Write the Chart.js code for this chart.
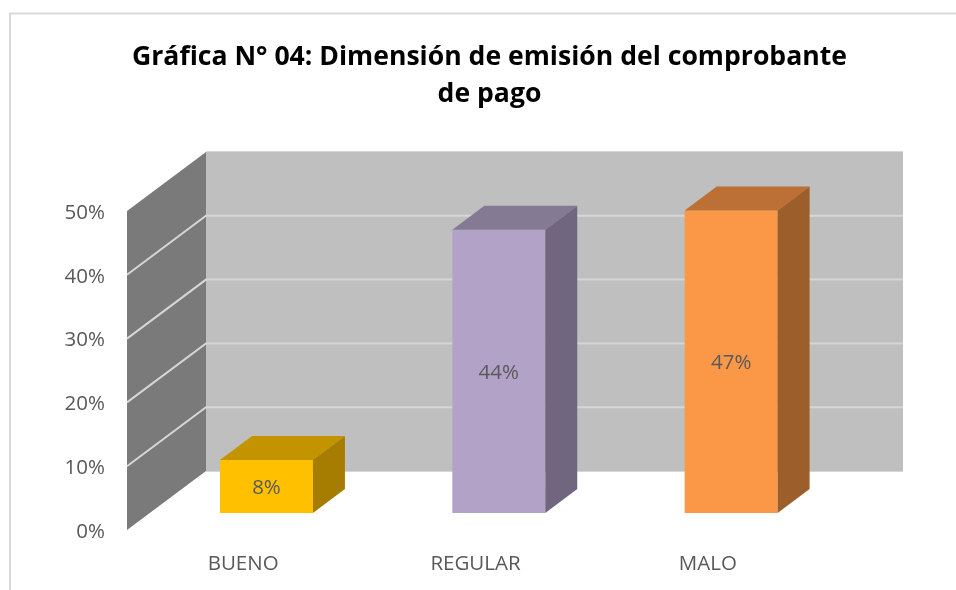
<!DOCTYPE html>
<html><head><meta charset="utf-8">
<style>html,body{margin:0;padding:0;background:#fff;overflow:hidden}#w{width:956px;height:590px}</style>
<script src="https://cdn.jsdelivr.net/npm/chart.js@4"></script>
</head><body><div id="w"><canvas id="c" width="956" height="590"></canvas></div>
<script>
const categories = ['BUENO', 'REGULAR', 'MALO'];
const values = [8.3, 44.4, 47.4];
const frontColors = ['#ffc000', '#b3a2c7', '#fb9848'];
const topColors = ['#c39400', '#857a94', '#bc7035'];
const sideColors = ['#a67d00', '#716680', '#9c5f2c'];
const titleLines = ['Gráfica N° 04: Dimensión de emisión del comprobante', 'de pago'];
const FONT = '"Open Sans", sans-serif';

const wall = {dx: 79, dy: -59};
const bar = {ox: 23.3, oy: -17, dx: 32, dy: -24};

function poly(ctx, pts, fill) {
  ctx.beginPath();
  pts.forEach((p, i) => i ? ctx.lineTo(p[0], p[1]) : ctx.moveTo(p[0], p[1]));
  ctx.closePath();
  ctx.fillStyle = fill;
  ctx.fill();
}

const scene = {
  id: 'scene',
  beforeDraw(chart) {
    const ctx = chart.ctx;
    ctx.save();
    ctx.strokeStyle = '#d9d9d9';
    ctx.lineWidth = 2;
    ctx.beginPath();
    ctx.moveTo(10, 590); ctx.lineTo(10, 13.5); ctx.lineTo(956, 13.5);
    ctx.stroke();
    ctx.restore();
  },
  afterLayout(chart) {
    const t = chart.titleBlock;
    t.left = 132; t.right = 847;
  },
  beforeDatasetsDraw(chart) {
    const ctx = chart.ctx, x = chart.scales.x, y = chart.scales.y;
    const l = x.left, r = x.right, y0 = y.getPixelForValue(0), y1 = y.getPixelForValue(50);
    ctx.save();
    poly(ctx, [[l + wall.dx, y1 + wall.dy], [r + wall.dx, y1 + wall.dy], [r + wall.dx, y0 + wall.dy], [l + wall.dx, y0 + wall.dy]], '#bfbfbf');
    poly(ctx, [[l, y1], [l + wall.dx, y1 + wall.dy], [l + wall.dx, y0 + wall.dy], [l, y0]], '#7a7a7a');
    ctx.strokeStyle = '#d6d6d6';
    ctx.lineWidth = 2;
    y.ticks.forEach(t => {
      const v = t.value;
      if (v === 0 || v === 50) return;
      const p = y.getPixelForValue(v);
      ctx.beginPath();
      ctx.moveTo(l, p); ctx.lineTo(l + wall.dx, p + wall.dy); ctx.lineTo(r + wall.dx, p + wall.dy);
      ctx.stroke();
    });
    ctx.lineWidth = 1;
    ctx.beginPath();
    ctx.moveTo(l + wall.dx, y1 + wall.dy - .5); ctx.lineTo(r + wall.dx, y1 + wall.dy - .5);
    ctx.moveTo(l + wall.dx, y0 + wall.dy + .5); ctx.lineTo(r + wall.dx, y0 + wall.dy + .5);
    ctx.stroke();
    ctx.restore();
  },
  beforeDatasetDraw(chart) {
    chart.ctx.save();
    chart.ctx.translate(bar.ox, bar.oy);
  },
  afterDatasetDraw(chart, args) {
    const ctx = chart.ctx;
    ctx.restore();
    ctx.save();
    args.meta.data.forEach((el, i) => {
      const a = el.x - el.width / 2 + bar.ox, b = el.x + el.width / 2 + bar.ox;
      const t = el.y + bar.oy, f = el.base + bar.oy;
      poly(ctx, [[a, t], [a + bar.dx, t + bar.dy], [b + bar.dx, t + bar.dy], [b, t]], topColors[i]);
      poly(ctx, [[b, t], [b + bar.dx, t + bar.dy], [b + bar.dx, f + bar.dy], [b, f]], sideColors[i]);
      ctx.fillStyle = '#595959';
      ctx.font = '20.5px ' + FONT;
      ctx.textAlign = 'center';
      ctx.textBaseline = 'middle';
      ctx.fillText(Math.round(values[i]) + '%', (a + b) / 2, (t + f) / 2 + 1.5);
    });
    ctx.restore();
  }
};

new Chart(document.getElementById('c'), {
  type: 'bar',
  data: {
    labels: categories,
    datasets: [{
      data: values,
      backgroundColor: frontColors,
      borderWidth: 0,
      barPercentage: 1,
      categoryPercentage: 0.4,
      clip: false
    }]
  },
  options: {
    responsive: false,
    animation: false,
    layout: {padding: {left: 0, right: 132, top: 0, bottom: 0}},
    plugins: {
      legend: {display: false},
      tooltip: {enabled: false},
      title: {
        display: true,
        text: titleLines,
        color: '#000000',
        font: {family: FONT, size: 26.6, weight: '700', lineHeight: 37 / 26.6},
        padding: {top: 39, bottom: 98}
      }
    },
    scales: {
      x: {
        grid: {display: false},
        border: {display: false},
        ticks: {color: '#595959', font: {family: FONT, size: 20.5}, padding: 14, maxRotation: 0},
        afterFit(s) { s.height = 60; }
      },
      y: {
        min: 0, max: 50,
        grid: {display: false, tickLength: 0},
        border: {display: false},
        ticks: {stepSize: 10, color: '#595959', font: {family: FONT, size: 20.5}, padding: 22, labelOffset: 2, callback: v => v + '%'},
        afterFit(s) { s.width = 127; }
      }
    }
  },
  plugins: [scene]
});
</script></body></html>
